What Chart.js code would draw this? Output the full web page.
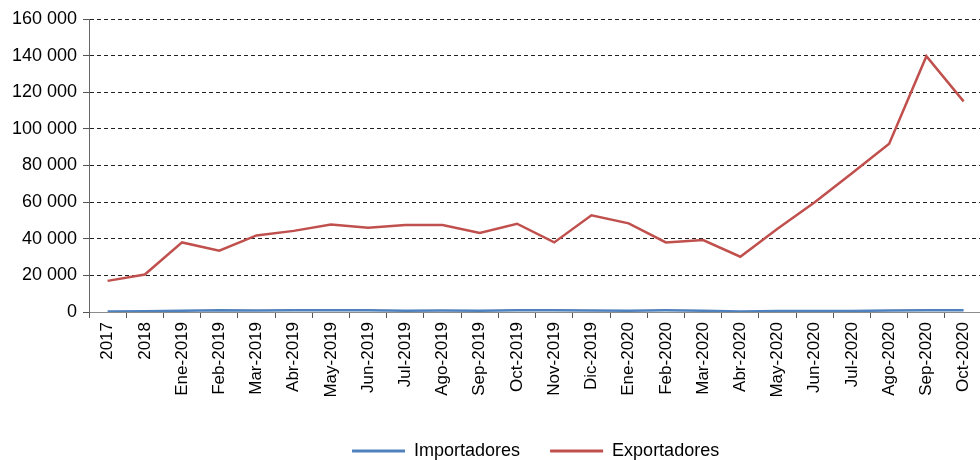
<!DOCTYPE html>
<html>
<head>
<meta charset="utf-8">
<script src="https://cdn.jsdelivr.net/npm/chart.js@4/dist/chart.umd.min.js"></script>
<style>
  html, body { margin: 0; padding: 0; background: #fff; overflow: hidden; }
  #wrap { position: relative; width: 988px; height: 472px; }
</style>
</head>
<body>
<div id="wrap"><canvas id="chart"></canvas></div>
<script>
// categories (x axis)
const periods = [
  "2017", "2018", "Ene-2019", "Feb-2019", "Mar-2019", "Abr-2019", "May-2019",
  "Jun-2019", "Jul-2019", "Ago-2019", "Sep-2019", "Oct-2019", "Nov-2019",
  "Dic-2019", "Ene-2020", "Feb-2020", "Mar-2020", "Abr-2020", "May-2020",
  "Jun-2020", "Jul-2020", "Ago-2020", "Sep-2020", "Oct-2020"
];

// series values
const importadores = [
  300, 400, 700, 1000, 800, 1000, 1000, 900, 700, 800, 700, 900,
  900, 800, 700, 900, 700, 300, 500, 500, 600, 800, 900, 900
];
const exportadores = [
  17000, 20500, 38000, 33500, 41800, 44300, 47800, 46000, 47500, 47500, 43200, 48200,
  38000, 52800, 48400, 38000, 39300, 30200, 45500, 59900, 75800, 91900, 139700, 115000
];

// y axis ticks
const yMin = 0;
const yMax = 160000;
const yStep = 20000;

const fmt = v => String(v).replace(/\B(?=(\d{3})+(?!\d))/g, " ");
const FONT = "'Liberation Sans', Arial, sans-serif";

const ctx = document.getElementById("chart").getContext("2d");
new Chart(ctx, {
  type: "line",
  data: {
    labels: periods,
    datasets: [
      {
        label: "Importadores",
        data: importadores,
        borderColor: "#4F81BD",
        backgroundColor: "#4F81BD",
        borderWidth: 2.5,
        pointRadius: 0,
        tension: 0,
      },
      {
        label: "Exportadores",
        data: exportadores,
        borderColor: "#C0504D",
        backgroundColor: "#C0504D",
        borderWidth: 2.5,
        pointRadius: 0,
        tension: 0,
      },
    ],
  },
  options: {
    responsive: true,
    maintainAspectRatio: false,
    animation: false,
    layout: { padding: { top: 19, right: 0, bottom: 2, left: 0 } },
    plugins: {
      tooltip: { enabled: false },
      legend: {
        position: "bottom",
        fullSize: false,
        labels: {
          color: "#000",
          font: { family: FONT, size: 18 },
          boxWidth: 53,
          boxHeight: 3,
          padding: 30,
          // flat line markers, no stroke around the box
          generateLabels: chart =>
            Chart.defaults.plugins.legend.labels
              .generateLabels(chart)
              .map(item => ({ ...item, lineWidth: 0, strokeStyle: "rgba(0,0,0,0)" })),
        },
      },
    },
    scales: {
      x: {
        offset: true,
        border: { color: "#8c8c8c", width: 1 },
        grid: {
          offset: true,
          drawOnChartArea: false,
          drawTicks: true,
          tickLength: 6,
          tickColor: "#555",
        },
        ticks: {
          color: "#000",
          font: { family: FONT, size: 17 },
          minRotation: 90,
          maxRotation: 90,
          autoSkip: false,
          padding: 4,
        },
        afterFit: scale => { scale.height = 100; },
      },
      y: {
        min: yMin,
        max: yMax,
        border: { color: "#666", width: 1, dash: [4, 3] },
        grid: {
          color: "#222",
          lineWidth: 1,
          tickLength: 6,
          tickColor: "#555",
          tickBorderDash: [],
        },
        ticks: {
          stepSize: yStep,
          color: "#000",
          font: { family: FONT, size: 18 },
          padding: 6,
          callback: v => fmt(v),
        },
        afterFit: scale => { scale.width = 89; },
      },
    },
  },
});
</script>
</body>
</html>
